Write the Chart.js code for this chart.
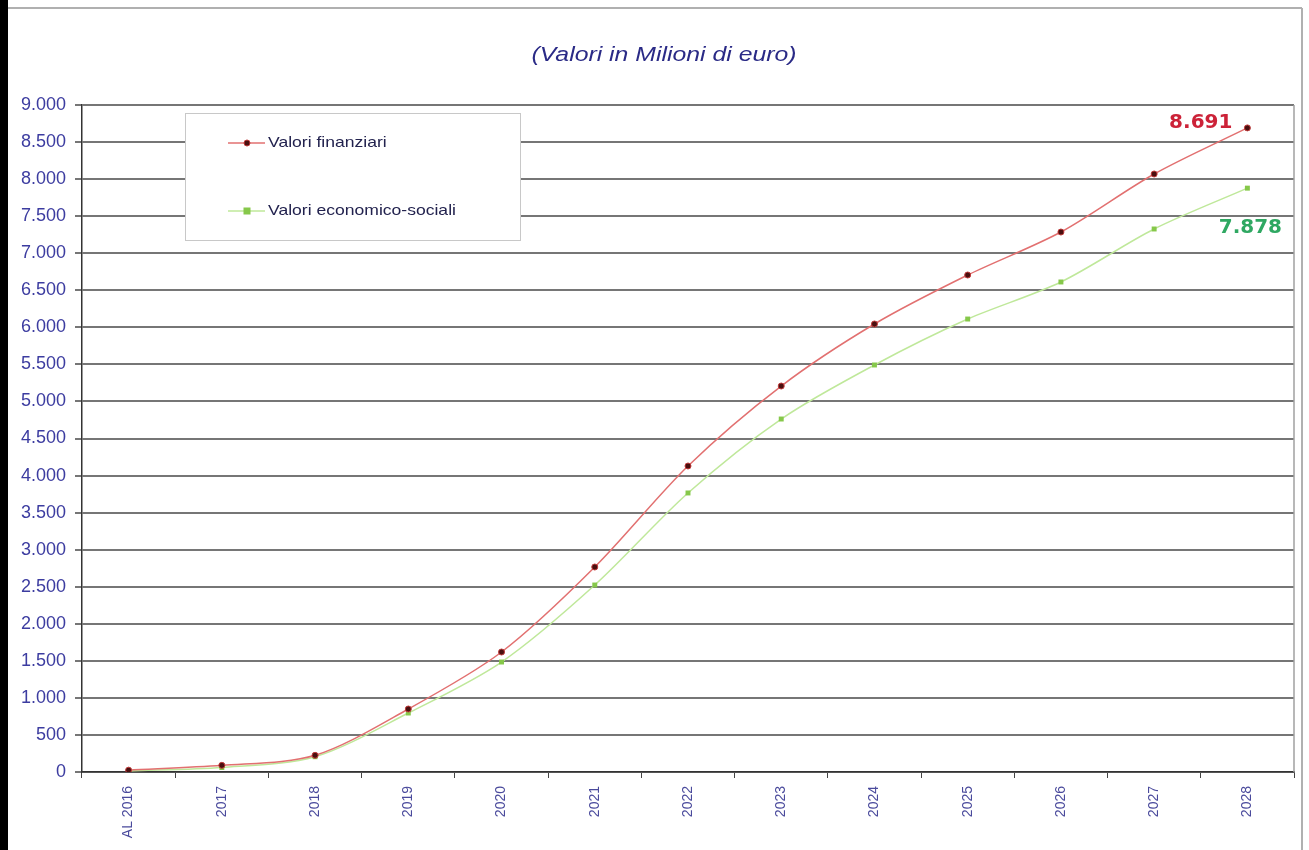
<!DOCTYPE html>
<html><head><meta charset="utf-8">
<script src="https://cdn.jsdelivr.net/npm/chart.js@4.4.1/dist/chart.umd.min.js"></script>
<style>html,body{margin:0;padding:0;background:#fff;overflow:hidden}#wrap{position:absolute;left:0;top:0;width:1309px;height:850px}</style>
</head><body><div id="wrap"><canvas id="c" width="1309" height="850"></canvas></div>
<script>
const categories = ['AL 2016','2017','2018','2019','2020','2021','2022','2023','2024','2025','2026','2027','2028'];
const valoriFinanziari = [25, 90, 225, 850, 1619, 2766, 4129, 5208, 6045, 6706, 7286, 8069, 8691];
const valoriEconomicoSociali = [15, 60, 206, 796, 1484, 2523, 3765, 4763, 5492, 6112, 6612, 7327, 7878];
const seriesNames = ['Valori finanziari', 'Valori economico-sociali'];
const yMin = 0, yMax = 9000, yStep = 500;
const chartTitle = '(Valori in Milioni di euro)';

function fmtIt(v) {
  return String(Math.round(v)).replace(/\B(?=(\d{3})+(?!\d))/g, '.');
}

function stretchedText(ctx, text, x, y, sx) {
  ctx.save();
  ctx.translate(x, y);
  ctx.scale(sx, 1);
  ctx.fillText(text, 0, 0);
  ctx.restore();
}

const framePlugin = {
  id: 'frame',
  beforeDraw(chart) {
    const ctx = chart.ctx;
    ctx.save();
    ctx.fillStyle = '#fff';
    ctx.fillRect(0, 0, chart.width, chart.height);
    ctx.fillStyle = '#000';
    ctx.fillRect(0, 0, 8, chart.height);
    ctx.strokeStyle = '#b0b0b0';
    ctx.lineWidth = 2;
    ctx.beginPath();
    ctx.moveTo(8, 8); ctx.lineTo(1302, 8);
    ctx.moveTo(1302, 8); ctx.lineTo(1302, chart.height);
    ctx.stroke();
    // title
    ctx.fillStyle = '#2a2a86';
    ctx.font = 'italic 20px "Liberation Sans", Arial, sans-serif';
    ctx.textAlign = 'center';
    ctx.textBaseline = 'middle';
    stretchedText(ctx, chartTitle, 664, 55, 1.24);
    ctx.restore();
  },
  afterDraw(chart) {
    const ctx = chart.ctx, a = chart.chartArea;
    ctx.save();
    ctx.strokeStyle = '#a0a0a0';
    ctx.lineWidth = 1.5;
    ctx.beginPath();
    ctx.moveTo(a.right, a.top); ctx.lineTo(a.right, a.bottom);
    ctx.stroke();
    // legend
    const lx = 185, ly = 113, lw = 335, lh = 127;
    ctx.fillStyle = '#fff';
    ctx.fillRect(lx, ly, lw, lh);
    ctx.strokeStyle = '#c8c8c8';
    ctx.lineWidth = 1;
    ctx.strokeRect(lx + 0.5, ly + 0.5, lw, lh);
    const rows = [143, 211];
    chart.data.datasets.forEach((ds, i) => {
      const y = rows[i];
      ctx.strokeStyle = ds.borderColor;
      ctx.lineWidth = ds.borderWidth;
      ctx.beginPath(); ctx.moveTo(228, y); ctx.lineTo(265, y); ctx.stroke();
      ctx.fillStyle = ds.pointBackgroundColor;
      ctx.strokeStyle = ds.pointBorderColor;
      ctx.lineWidth = 1;
      if (ds.pointStyle === 'rect') {
        ctx.fillRect(243.5, y - 3.5, 7, 7);
      } else {
        ctx.beginPath(); ctx.arc(247, y, 3, 0, Math.PI * 2); ctx.fill(); ctx.stroke();
      }
      ctx.fillStyle = '#22224e';
      ctx.font = '15px "Liberation Sans", Arial, sans-serif';
      ctx.textAlign = 'left';
      ctx.textBaseline = 'middle';
      stretchedText(ctx, ds.label, 268, y, 1.17);
    });
    // end labels
    const xs = chart.scales.x, ys = chart.scales.y;
    const last = categories.length - 1;
    ctx.font = 'bold 20px "DejaVu Sans", sans-serif';
    ctx.textBaseline = 'middle';
    const px = xs.getPixelForValue(last);
    ctx.fillStyle = '#cc2238';
    ctx.textAlign = 'right';
    ctx.fillText(fmtIt(valoriFinanziari[last]), px - 15, ys.getPixelForValue(valoriFinanziari[last]) - 5);
    ctx.fillStyle = '#2fa862';
    ctx.textAlign = 'center';
    ctx.fillText(fmtIt(valoriEconomicoSociali[last]), px + 3, ys.getPixelForValue(valoriEconomicoSociali[last]) + 40);
    ctx.restore();
  }
};

new Chart(document.getElementById('c'), {
  type: 'line',
  data: {
    labels: categories,
    datasets: [
      {
        label: seriesNames[0], data: valoriFinanziari,
        borderColor: '#e27070', borderWidth: 1.5, tension: 0.3,
        pointRadius: 3, pointStyle: 'circle',
        pointBackgroundColor: '#4a0f0f', pointBorderColor: '#c03a3a', pointBorderWidth: 1
      },
      {
        label: seriesNames[1], data: valoriEconomicoSociali,
        borderColor: '#bfe89a', borderWidth: 1.5, tension: 0.3,
        pointRadius: 3.5, pointStyle: 'rect',
        pointBackgroundColor: '#86c84a', pointBorderColor: '#86c84a', pointBorderWidth: 0
      }
    ]
  },
  options: {
    responsive: false,
    animation: false,
    devicePixelRatio: 1,
    layout: { padding: { top: 105, right: 15, left: 1, bottom: 0 } },
    plugins: { legend: { display: false }, title: { display: false }, tooltip: { enabled: false } },
    scales: {
      x: {
        offset: true,
        grid: { offset: true, drawOnChartArea: false, drawTicks: true, tickLength: 6, color: '#444', lineWidth: 1 },
        border: { display: true, color: '#333', width: 1.5 },
        ticks: { minRotation: 90, maxRotation: 90, autoSkip: false, padding: 8, color: '#4a4a9c',
                 font: { family: '"Liberation Sans", Arial, sans-serif', size: 14 } },
        afterFit(s) { s.height = 78; }
      },
      y: {
        min: yMin, max: yMax,
        grid: { color: '#767676', lineWidth: 2, drawTicks: true, tickLength: 7 },
        border: { display: true, color: '#333', width: 1.5 },
        ticks: { stepSize: yStep, padding: 9, color: '#3c3ca0',
                 font: { family: '"Liberation Sans", Arial, sans-serif', size: 18 },
                 callback: (v) => fmtIt(v) },
        afterFit(s) { s.width = 81; }
      }
    }
  },
  plugins: [framePlugin]
});
</script>
</body></html>
